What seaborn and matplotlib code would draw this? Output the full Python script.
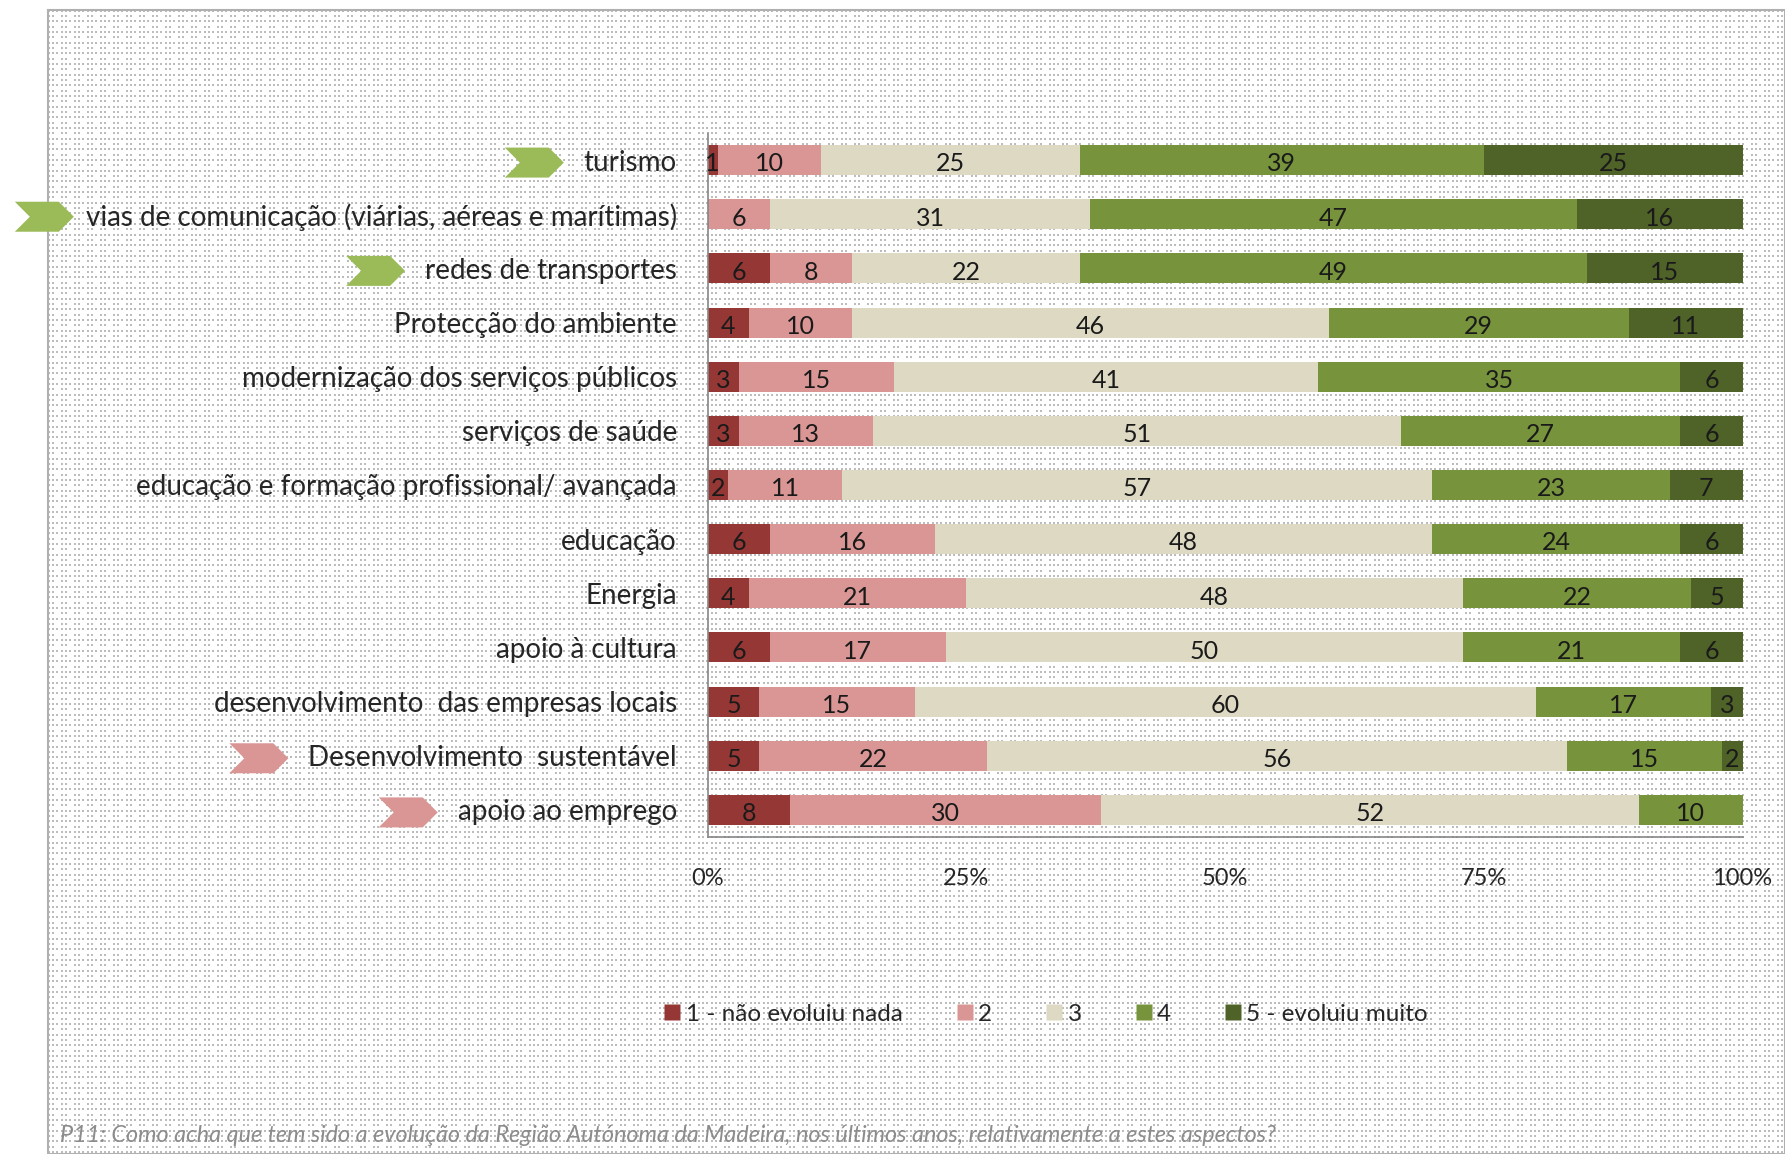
import numpy as np
import pandas as pd
import matplotlib
matplotlib.use("Agg")
import matplotlib.pyplot as plt
from matplotlib.patches import Polygon, Rectangle
from matplotlib.lines import Line2D
import seaborn as sns

# ---- data -------------------------------------------------------------
categories = [
    "turismo",
    "vias de comunicação (viárias, aéreas e marítimas)",
    "redes de transportes",
    "Protecção do ambiente",
    "modernização dos serviços públicos",
    "serviços de saúde",
    "educação e formação profissional/ avançada",
    "educação",
    "Energia",
    "apoio à cultura",
    "desenvolvimento  das empresas locais",
    "Desenvolvimento  sustentável",
    "apoio ao emprego",
]
level_names = ["1 - não evoluiu nada", "2", "3", "4", "5 - evoluiu muito"]
level1 = [1, 0, 6, 4, 3, 3, 2, 6, 4, 6, 5, 5, 8]
level2 = [10, 6, 8, 10, 15, 13, 11, 16, 21, 17, 15, 22, 30]
level3 = [25, 31, 22, 46, 41, 51, 57, 48, 48, 50, 60, 56, 52]
level4 = [39, 47, 49, 29, 35, 27, 23, 24, 22, 21, 17, 15, 10]
level5 = [25, 16, 15, 11, 6, 6, 7, 6, 5, 6, 3, 2, 0]
x_ticks = [0, 25, 50, 75, 100]
x_ticklabels = ["0%", "25%", "50%", "75%", "100%"]
arrow_up = ["turismo", "vias de comunicação (viárias, aéreas e marítimas)",
            "redes de transportes"]
arrow_down = ["Desenvolvimento  sustentável", "apoio ao emprego"]
footnote = ("P11: Como acha que tem sido a evolução da Região Autónoma da "
            "Madeira, nos últimos anos, relativamente a estes aspectos?")

colors = ["#953735", "#D99694", "#DDD9C3", "#77933C", "#4F6228"]

levels = [level1, level2, level3, level4, level5]
df = pd.DataFrame({name: vals for name, vals in zip(level_names, levels)},
                  index=categories)
cum = df.cumsum(axis=1)

# ---- figure -----------------------------------------------------------
sns.set_theme(style="white")
plt.rcParams["font.family"] = ["Lato", "DejaVu Sans"]

W, H = 1785, 1154
fig = plt.figure(figsize=(W / 100, H / 100), dpi=100)
fig.patch.set_facecolor("white")

# dotted backdrop of the chart frame
bx0, by0 = 48, 10
bw, bh = W - bx0, H - by0
pat = np.ones((bh, bw, 3))
xs = np.cumsum([0] + [4, 4, 5] * (bw // 13 + 2))
ys = np.cumsum([0] + [5, 5, 6] * (bh // 16 + 2))
for j, y in enumerate(ys):
    if y >= bh:
        break
    for i, x in enumerate(xs):
        if x >= bw:
            break
        if j % 2 == 1 and i % 3 == 2:
            continue
        pat[y:y + 2, x:x + 2, :] = 0.74
fig.figimage(pat, xo=bx0, yo=0, origin="upper", zorder=-2)
fig.patches.append(Rectangle((bx0 / W, 0), bw / W, bh / H, transform=fig.transFigure,
                             fill=False, edgecolor="#b0b0b0", linewidth=1.5,
                             zorder=-1))

ax = fig.add_axes([707.5 / W, (H - 837) / H, 1035 / W, 704 / H])
ax.set_facecolor("none")

# stacked bars: draw cumulative totals from the top level down
for k in range(len(level_names) - 1, -1, -1):
    sns.barplot(x=cum.iloc[:, k].values, y=categories, orient="h",
                color=colors[k], width=0.555, linewidth=0, saturation=1,
                ax=ax, order=categories)

for r, cat in enumerate(categories):
    for k in range(len(level_names)):
        v = df.iloc[r, k]
        if v <= 0:
            continue
        xc = cum.iloc[r, k] - v / 2
        ax.text(xc, r + 0.07, f"{v}", ha="center", va="center", fontsize=18,
                color="#1a1a1a")

ax.set_xlim(0, 100)
ax.set_ylim(len(categories) - 0.5, -0.5)
ax.set_xticks(x_ticks)
ax.set_xticklabels(x_ticklabels)
ax.set_xlabel("")
ax.set_ylabel("")
for s in ["top", "right"]:
    ax.spines[s].set_visible(False)
for s in ["left", "bottom"]:
    ax.spines[s].set_color("#868686")
    ax.spines[s].set_linewidth(1.2)
ax.tick_params(axis="x", direction="out", length=5, width=1.2, color="#868686",
               pad=17, labelsize=17, labelcolor="#262626")
ax.tick_params(axis="y", which="major", length=0, pad=22, labelsize=20,
               labelcolor="#262626")
ax.set_yticks(np.arange(-0.5, len(categories), 1.0), minor=True)
ax.tick_params(axis="y", which="minor", direction="out", length=5, width=1.2,
               color="#868686")

# chevron markers beside highlighted categories
fig.canvas.draw()
renderer = fig.canvas.get_renderer()
for lab in ax.get_yticklabels():
    txt = lab.get_text()
    if txt in arrow_up or txt in arrow_down:
        bb = lab.get_window_extent(renderer)
        yc = (bb.y0 + bb.y1) / 2
        gap = 12 if bb.x0 < 120 else 20
        right = bb.x0 - gap
        aw, ah, d = 59, 30, 15
        pts = [(right - aw, yc + ah / 2), (right - d, yc + ah / 2), (right, yc),
               (right - d, yc - ah / 2), (right - aw, yc - ah / 2),
               (right - aw + d, yc)]
        pts = [(px / W, py / H) for px, py in pts]
        c = "#9BBB59" if txt in arrow_up else "#D99694"
        fig.patches.append(Polygon(pts, closed=True, transform=fig.transFigure,
                                   facecolor=c, edgecolor="none"))

handles = [Line2D([0], [0], marker="s", linestyle="none", markersize=11,
                  markerfacecolor=c, markeredgecolor="none") for c in colors]
fig.legend(handles, level_names, loc="center", bbox_to_anchor=(1046 / W, 1 - 1014 / H),
           ncol=5, frameon=False, fontsize=17.5, handlelength=0.7,
           handletextpad=0.2, columnspacing=2.2, labelcolor="#262626")

fig.text(60 / W, 1 - 1135 / H, footnote, fontsize=16.8, style="italic",
         color="#8c8c8c", ha="left", va="center")

fig.savefig("out.png", dpi=100, facecolor="white")
